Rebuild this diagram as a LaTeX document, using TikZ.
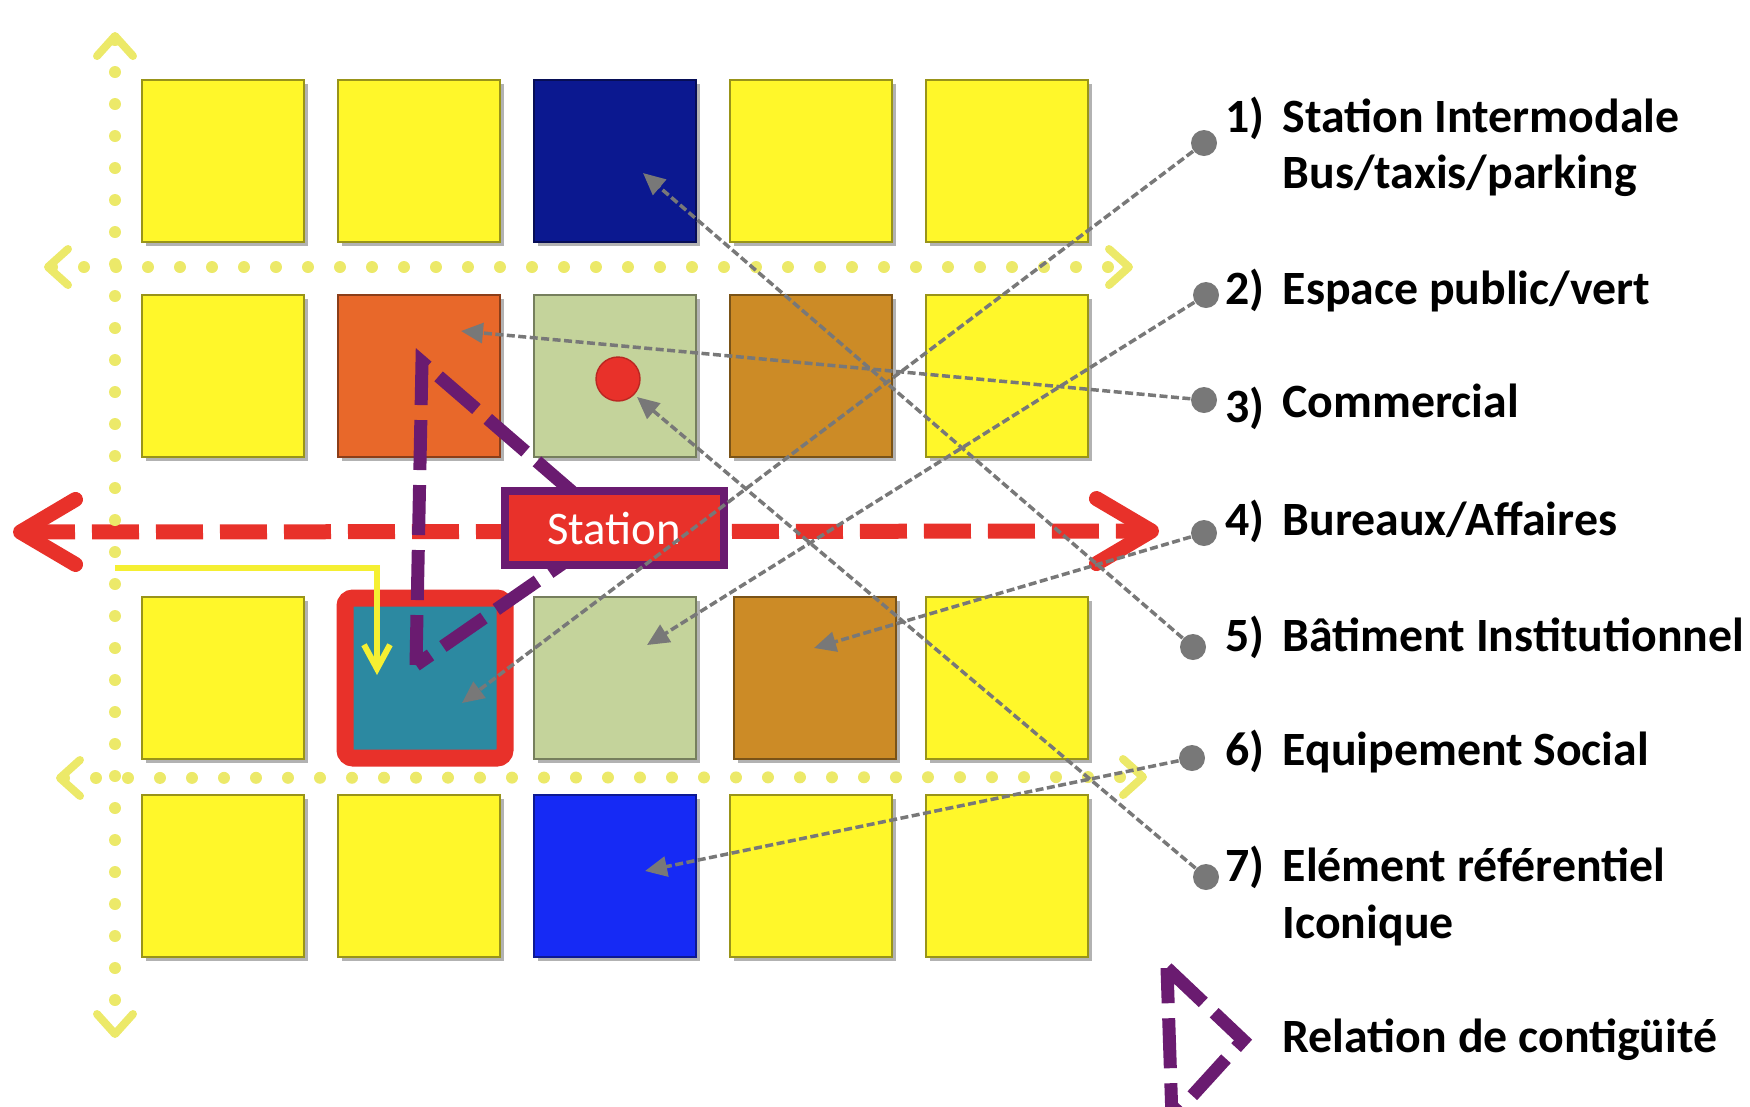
\documentclass[tikz,border=0pt]{standalone}
\usepackage{fontspec}
\setmainfont{Carlito}
\usetikzlibrary{arrows.meta}
\usetikzlibrary{shadows}
\definecolor{jaune}{RGB}{255,247,42}
\definecolor{marine}{RGB}{11,24,144}
\definecolor{brique}{RGB}{232,104,42}
\definecolor{vertclair}{RGB}{196,211,155}
\definecolor{ocre}{RGB}{204,139,38}
\definecolor{bleucanard}{RGB}{44,137,161}
\definecolor{bleuvif}{RGB}{22,42,245}
\definecolor{rouge}{RGB}{232,49,42}
\definecolor{pourpre}{RGB}{106,27,112}
\definecolor{gris}{RGB}{120,120,120}
\definecolor{pointille}{RGB}{236,233,105}
\definecolor{fleche}{RGB}{245,239,50}
\tikzset{
    lot/.style = {draw=#1!60!black, fill=#1, inner sep=0pt,
        minimum size=16.2mm,
        drop shadow={shadow xshift=0.35mm, shadow yshift=-0.35mm, opacity=0.3, fill=black}},
    gare/.style = {draw=rouge, fill=bleucanard, line width=1.7mm,
        minimum size=16mm, rounded corners=0.8mm},
    station/.style = {draw=pourpre, fill=rouge, line width=0.8mm, text=white,
        minimum width=21.9mm, minimum height=7.4mm,
        font=\fontsize{13.3}{16}\selectfont},
    point/.style = {circle, draw=rouge!80!black, fill=rouge, minimum size=4.4mm, inner sep=0pt},
    puce/.style = {circle, fill=gris, minimum size=2.6mm, inner sep=0pt},
    axe/.style = {draw=pointille, line width=1.2mm, line cap=round,
        dash pattern=on 0pt off 3.2mm,
        {Straight Barb[length=2mm, width=3.6mm, line width'=0.8mm, round]}-{Straight Barb[length=2mm, width=3.6mm, line width'=0.8mm, round]}},
    voie/.style = {draw=rouge, line width=1.5mm, dash pattern=on 4.7mm off 1.7mm,
        {Straight Barb[length=5.5mm, width=6.5mm, line width'=1.5mm, round]}-{Straight Barb[length=5.5mm, width=6.5mm, line width'=1.5mm, round]}},
    contig/.style = {draw=pourpre, line width=1.3mm, dash pattern=on 5mm off 1.5mm},
    acces/.style = {draw=fleche, line width=0.6mm, -{Straight Barb[length=2.4mm, width=2.6mm]}},
    renvoi/.style = {draw=gris, line width=0.35mm, dash pattern=on 0.8mm off 0.35mm,
        -{Triangle[length=2.2mm, width=2mm]}},
    numero/.style = {anchor=base west, inner sep=0pt, font=\fontsize{13.6}{16}\selectfont\bfseries},
    legende/.style = {numero}
}

\begin{document}
\begin{tikzpicture}[x=0.1mm, y=-0.1mm, node distance=1.96cm]
    \useasboundingbox (0,0) rectangle (1750,1106);

    \node [lot=jaune] (r1c1) at (223,161) {};
    \node [lot=jaune, right of=r1c1] (r1c2) {};
    \node [lot=marine, right of=r1c2] (institution) {};
    \node [lot=jaune, right of=institution] (r1c4) {};
    \node [lot=jaune, right of=r1c4] (r1c5) {};

    \node [lot=jaune] (r2c1) at (223,376) {};
    \node [lot=brique, right of=r2c1] (commerce) {};
    \node [lot=vertclair, right of=commerce] (vert) {};
    \node [lot=ocre, right of=vert] (bureaux) {};
    \node [lot=jaune, right of=bureaux] (r2c5) {};

    \node [lot=jaune] (r3c1) at (223,678) {};
    \node [gare, right of=r3c1, xshift=0.6mm] (intermodal) {};
    \node [lot=vertclair, right of=intermodal, xshift=-0.6mm] (vertb) {};
    \node [lot=ocre, right of=vertb, xshift=0.4mm] (bureauxb) {};
    \node [lot=jaune, right of=bureauxb, xshift=-0.4mm] (r3c5) {};

    \node [lot=jaune] (r4c1) at (223,876) {};
    \node [lot=jaune, right of=r4c1] (r4c2) {};
    \node [lot=bleuvif, right of=r4c2] (social) {};
    \node [lot=jaune, right of=social] (r4c4) {};
    \node [lot=jaune, right of=r4c4] (r4c5) {};

    \node [point] (iconique) at (618,379) {};

    \coordinate (nord) at (115,32);
    \coordinate (sud) at (115,1038);
    \coordinate (ouesta) at (44,267);
    \coordinate (esta) at (1133,267);
    \coordinate (ouestb) at (56,778);
    \coordinate (estb) at (1147,777);
    \coordinate (ouest) at (13,532);
    \coordinate (est) at (1159,531);

    \draw [voie] (ouest) -- (est);
    \draw [axe] (ouesta) -- (esta);
    \draw [axe] (ouestb) -- (estb);
    \draw [axe] (nord) -- (sud);

    \coordinate (depart) at (115,568);
    \coordinate (entree) at (377,675);
    \draw [acces] (depart) -| (entree);

    \coordinate (haut) at (422,362);
    \coordinate (bas) at (416,665);
    \coordinate (gare) at (614,528);
    \draw [contig] (bas) -- (haut) -- (gare) -- cycle;
    \node [station] (station) at (gare) {Station};

    \node [puce] (d1) at (1204,143) {};
    \node [puce] (d2) at (1206,295) {};
    \node [puce] (d3) at (1204,400) {};
    \node [puce] (d4) at (1204,533) {};
    \node [puce] (d5) at (1193,647) {};
    \node [puce] (d6) at (1192,758) {};
    \node [puce] (d7) at (1206,877) {};

    \coordinate (t1) at (462,703);
    \coordinate (t2) at (647,645);
    \coordinate (t3) at (461,331);
    \coordinate (t4) at (814,648);
    \coordinate (t5) at (643,173);
    \coordinate (t6) at (645,871);
    \coordinate (t7) at (637,397);

    \draw [renvoi] (d1) -- (t1);
    \draw [renvoi] (d2) -- (t2);
    \draw [renvoi] (d3) -- (t3);
    \draw [renvoi] (d4) -- (t4);
    \draw [renvoi] (d5) -- (t5);
    \draw [renvoi] (d6) -- (t6);
    \draw [renvoi] (d7) -- (t7);

    \node [numero] (n1) at (1225,132) {1)};
    \node [legende] (l1) at (1282,132) {Station Intermodale};
    \node [legende] (l1b) at (1282,188) {Bus/taxis/parking};
    \node [numero] (n2) at (1225,304) {2)};
    \node [legende] (l2) at (1282,304) {Espace public/vert};
    \node [numero] (n3) at (1225,422) {3)};
    \node [legende] (l3) at (1282,417) {Commercial};
    \node [numero] (n4) at (1225,535) {4)};
    \node [legende] (l4) at (1282,535) {Bureaux/Affaires};
    \node [numero] (n5) at (1225,651) {5)};
    \node [legende] (l5) at (1282,651) {Bâtiment Institutionnel};
    \node [numero] (n6) at (1225,765) {6)};
    \node [legende] (l6) at (1282,765) {Equipement Social};
    \node [numero] (n7) at (1225,881) {7)};
    \node [legende] (l7) at (1282,881) {Elément référentiel};
    \node [legende] (l7b) at (1282,938) {Iconique};

    \coordinate (sa) at (1167,968);
    \coordinate (sb) at (1243,1040);
    \coordinate (sc) at (1172,1118);
    \draw [contig] (sa) -- (sb) -- (sc) -- cycle;
    \node [legende] (l8) at (1282,1052) {Relation de contigüité};
\end{tikzpicture}
\end{document}
